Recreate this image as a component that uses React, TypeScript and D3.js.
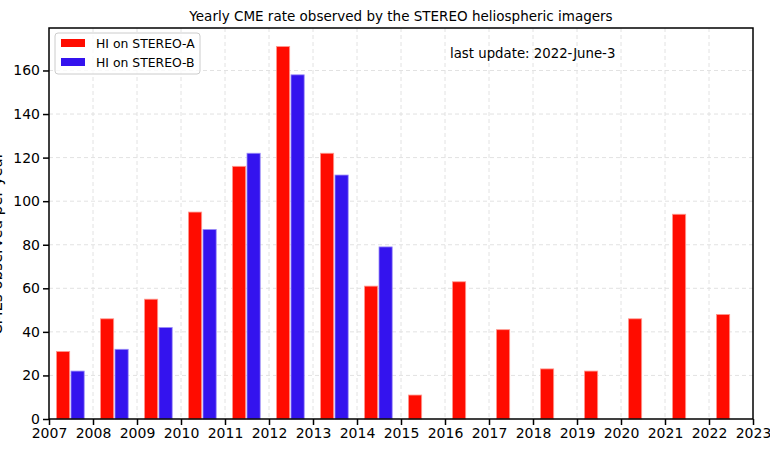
import React, { useEffect, useRef } from "react";
import * as d3 from "d3";

const yearsA = [2007, 2008, 2009, 2010, 2011, 2012, 2013, 2014, 2015, 2016, 2017, 2018, 2019, 2020, 2021, 2022];
const valuesA = [31, 46, 55, 95, 116, 171, 122, 61, 11, 63, 41, 23, 22, 46, 94, 48];
const yearsB = [2007, 2008, 2009, 2010, 2011, 2012, 2013, 2014];
const valuesB = [22, 32, 42, 87, 122, 158, 112, 79];
const xTicks = d3.range(2007, 2024);
const yTicks = [0, 20, 40, 60, 80, 100, 120, 140, 160];

const W = 770, H = 455;
const margin = { top: 28, right: 17, bottom: 36, left: 49 };
const FONT = "'DejaVu Sans', sans-serif";

export default function App() {
  const ref = useRef<SVGSVGElement>(null);

  useEffect(() => {
    const svg = d3.select(ref.current);
    svg.selectAll("*").remove();
    const w = W - margin.left - margin.right;
    const h = H - margin.top - margin.bottom;

    const x = d3.scaleLinear().domain([2007, 2023]).range([0, w]);
    const y = d3.scaleLinear().domain([0, 179.5]).range([h, 0]);

    svg.append("rect").attr("width", W).attr("height", H).attr("fill", "#fff");

    svg.append("text")
      .attr("x", margin.left + w / 2)
      .attr("y", 21)
      .attr("text-anchor", "middle")
      .style("font-family", FONT)
      .style("font-size", "13.5px")
      .text("Yearly CME rate observed by the STEREO heliospheric imagers");

    // y label, mostly cut off by the left edge as in the original
    svg.append("text")
      .attr("transform", `translate(2, ${margin.top + h / 2 + 20}) rotate(-90)`)
      .attr("text-anchor", "middle")
      .style("font-family", FONT)
      .style("font-size", "15px")
      .text("CMEs observed per year");

    const g = svg.append("g").attr("transform", `translate(${margin.left}, ${margin.top})`);

    // grid
    g.selectAll(".vgrid")
      .data(xTicks.slice(1, -1))
      .join("line")
      .attr("x1", d => x(d)).attr("x2", d => x(d))
      .attr("y1", 0).attr("y2", h)
      .attr("stroke", "#e2e2e2").attr("stroke-dasharray", "4,3");
    g.selectAll(".hgrid")
      .data(yTicks.slice(1))
      .join("line")
      .attr("x1", 0).attr("x2", w)
      .attr("y1", d => y(d)).attr("y2", d => y(d))
      .attr("stroke", "#e2e2e2").attr("stroke-dasharray", "4,3");

    // bars
    g.selectAll(".barA")
      .data(yearsA.map((yr, i) => ({ yr, v: valuesA[i] })))
      .join("rect")
      .attr("x", d => x(d.yr + 0.17))
      .attr("width", x(2007.3) - x(2007))
      .attr("y", d => y(d.v))
      .attr("height", d => h - y(d.v))
      .attr("fill", "#ff0c00")
      .attr("stroke", "#ff9a90").attr("stroke-width", 0.8);

    g.selectAll(".barB")
      .data(yearsB.map((yr, i) => ({ yr, v: valuesB[i] })))
      .join("rect")
      .attr("x", d => x(d.yr + 0.5))
      .attr("width", x(2007.3) - x(2007))
      .attr("y", d => y(d.v))
      .attr("height", d => h - y(d.v))
      .attr("fill", "#3413ee")
      .attr("stroke", "#9b8cf7").attr("stroke-width", 0.8);

    // frame
    g.append("rect").attr("width", w).attr("height", h)
      .attr("fill", "none").attr("stroke", "#000").attr("stroke-width", 1.5);

    const xAxis = g.append("g").attr("transform", `translate(0, ${h})`)
      .call(d3.axisBottom(x).tickValues(xTicks).tickFormat(d3.format("d")).tickSize(6).tickPadding(3));
    const yAxis = g.append("g")
      .call(d3.axisLeft(y).tickValues(yTicks).tickSize(6).tickPadding(3));
    [xAxis, yAxis].forEach(a => {
      a.select(".domain").remove();
      a.selectAll("line").attr("stroke", "#000").attr("stroke-width", 1.5);
      a.selectAll("text").style("font-family", FONT).style("font-size", "14px").attr("fill", "#000");
    });

    svg.append("text")
      .attr("x", 450)
      .attr("y", 58)
      .style("font-family", FONT)
      .style("font-size", "13.3px")
      .text("last update: 2022-June-3");

    // legend
    const lg = svg.append("g").attr("transform", "translate(55, 33)");
    lg.append("rect").attr("width", 145).attr("height", 41).attr("rx", 3)
      .attr("fill", "#fff").attr("fill-opacity", 0.8).attr("stroke", "#ccc");
    const items = [
      { label: "HI on STEREO-A", color: "#ff0c00" },
      { label: "HI on STEREO-B", color: "#3413ee" },
    ];
    items.forEach((it, i) => {
      lg.append("rect").attr("x", 6).attr("y", 6 + i * 19).attr("width", 24).attr("height", 8)
        .attr("fill", it.color);
      lg.append("text").attr("x", 41).attr("y", 15 + i * 19)
        .style("font-family", FONT).style("font-size", "12.4px").text(it.label);
    });
  }, []);

  return (
    <svg ref={ref} width={W} height={H}
      style={{ position: "absolute", left: 0, top: 0, display: "block" }} />
  );
}
